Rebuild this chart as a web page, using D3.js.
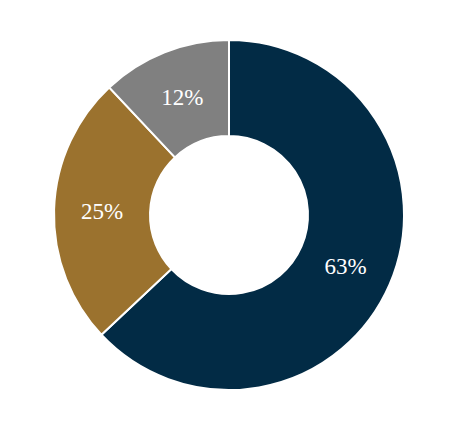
<!DOCTYPE html>
<html>
<head>
<meta charset="utf-8">
<script src="https://cdn.jsdelivr.net/npm/d3@7"></script>
<style>
  body { margin: 0; background: #fff; }
  svg { display: block; }
</style>
</head>
<body>
<div id="chart"></div>
<script>
const categories = ['A', 'B', 'C'];
const values = [63, 25, 12];
const labels = ['63%', '25%', '12%'];
const colors = ['#022b45', '#9b722e', '#808080'];

const width = 458, height = 430;
const cx = 229, cy = 215;
const outerR = 175, innerR = 79;

const svg = d3.select('#chart').append('svg')
    .attr('width', width)
    .attr('height', height);

const g = svg.append('g').attr('transform', `translate(${cx},${cy})`);

const pie = d3.pie().sort(null).value(d => d.value);
const arc = d3.arc().innerRadius(innerR).outerRadius(outerR);
const labelArc = d3.arc().innerRadius((innerR + outerR) / 2).outerRadius((innerR + outerR) / 2);

const data = categories.map((c, i) => ({ name: c, value: values[i], label: labels[i], color: colors[i] }));
const arcs = pie(data);

g.selectAll('path')
    .data(arcs)
    .enter()
    .append('path')
    .attr('d', arc)
    .attr('fill', d => d.data.color)
    .attr('stroke', '#fff')
    .attr('stroke-width', 2);

g.selectAll('text')
    .data(arcs)
    .enter()
    .append('text')
    .attr('transform', d => `translate(${labelArc.centroid(d)})`)
    .attr('text-anchor', 'middle')
    .attr('dy', '0.35em')
    .attr('fill', '#fff')
    .style('font-family', "'Liberation Serif', 'Times New Roman', serif")
    .style('font-size', '23px')
    .text(d => d.data.label);
</script>
</body>
</html>
